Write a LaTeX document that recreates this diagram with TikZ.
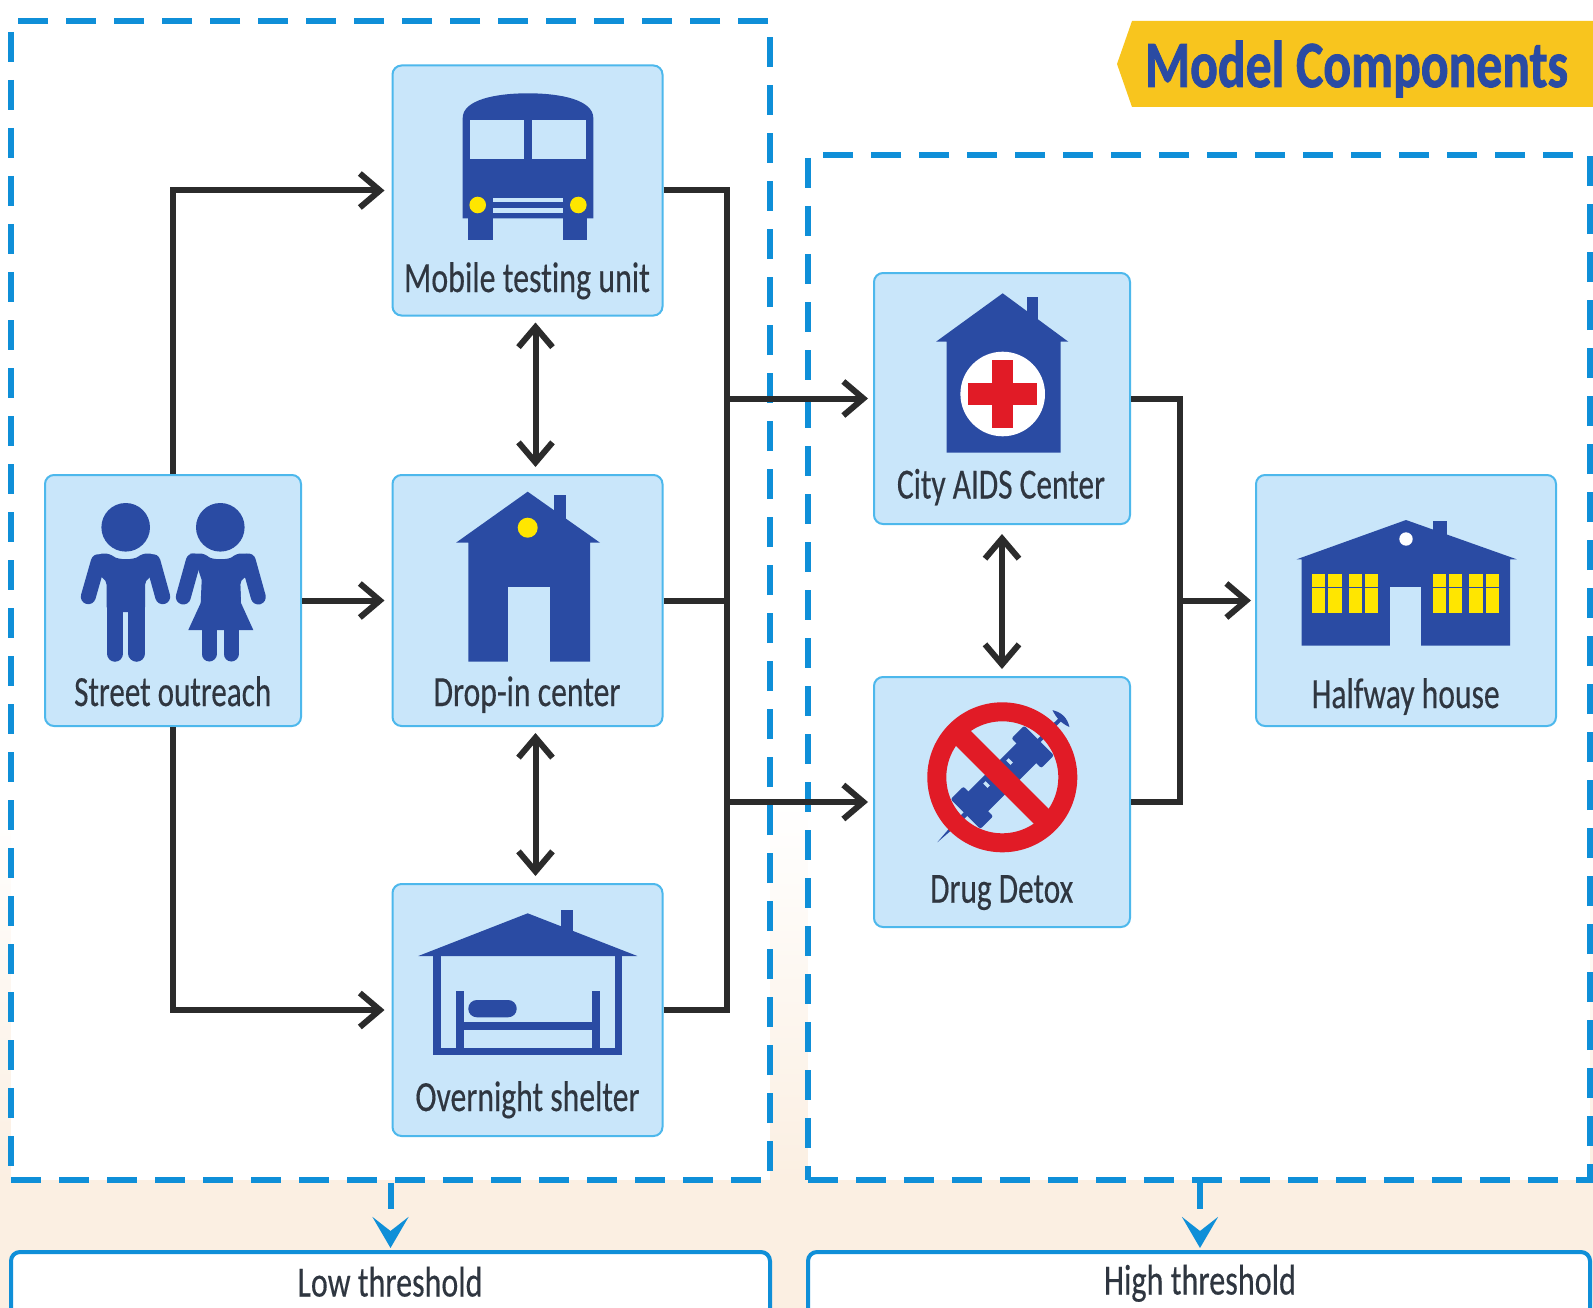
\documentclass[tikz,border=0pt]{standalone}
\usepackage{graphicx}
\usepackage{fontspec}
\setmainfont[Ligatures=NoCommon]{Carlito}
\usetikzlibrary{arrows.meta}
\definecolor{boxfill}{HTML}{C9E6FA}
\definecolor{boxline}{HTML}{4DB8EC}
\definecolor{iconblue}{HTML}{2A4BA3}
\definecolor{dashblue}{HTML}{0F8FD8}
\definecolor{cream}{HTML}{FBEFE2}
\definecolor{banner}{HTML}{F8C51E}
\definecolor{inkdark}{HTML}{2B2B2B}
\definecolor{labelink}{HTML}{2F3640}
\definecolor{lampyellow}{HTML}{FFE600}
\definecolor{crossred}{HTML}{E11B26}
\newcommand{\lbltext}[2]{\resizebox{#1pt}{\height}{\fontsize{43}{43}\selectfont\addfontfeature{FakeBold=0.4}#2}}
\tikzset{
  card/.style={draw=boxline,fill=boxfill,line width=2pt,rounded corners=9pt,inner sep=0pt,minimum height=251pt,minimum width=256pt},
  zone/.style={draw=dashblue,fill=white,line width=6pt,dash pattern=on 30pt off 18pt,inner sep=0pt},
  result/.style={draw=dashblue,fill=white,line width=4pt,rounded corners=9pt,inner sep=0pt},
  txt/.style={anchor=base,inner sep=0pt,text=labelink},
  conn/.style={draw=inkdark,line width=6pt},
  arr/.style={conn,-{Straight Barb[length=20pt,width=34pt]}},
  dbl/.style={conn,{Straight Barb[length=20pt,width=34pt]}-{Straight Barb[length=20pt,width=34pt]}},
  downarr/.style={draw=dashblue,line width=6pt,dash pattern=on 26pt off 200pt,-{Stealth[length=31pt,width=36pt,inset=14pt]}},
  icon/.style={fill=iconblue},
  limb/.style={draw=iconblue,line cap=round},
}
\begin{document}
\begin{tikzpicture}[x=1pt,y=-1pt]
\useasboundingbox (0,0) rectangle (1593,1308);
\clip (0,0) rectangle (1593,1308);
\fill[white] (0,0) rectangle (1593,1308);
\shade[top color=white,bottom color=cream] (0,800) rectangle (1593,1180);
\fill[cream] (0,1180) rectangle (1593,1308);

% banner
\fill[banner] (1132,21) -- (1593,21) -- (1593,107) -- (1132,107) -- (1117,64) -- cycle;
\node[anchor=base,inner sep=0pt,text=iconblue] (title) at (1356.5,87) {\resizebox{423pt}{\height}{\fontsize{66}{66}\selectfont\bfseries\addfontfeature{FakeBold=1.5}Model Components}};

% zones
\node[zone,minimum width=759pt,minimum height=1159pt] (lowzone) at (390.5,600.5) {};
\node[zone,minimum width=782pt,minimum height=1025pt] (highzone) at (1199,667.5) {};
\node[result,minimum width=759pt,minimum height=100pt] (lowres) at (390.5,1302) {};
\node[result,minimum width=782pt,minimum height=100pt] (highres) at (1199,1302) {};
\node[txt] (lowtxt) at (390,1296.5) {\lbltext{185}{Low threshold}};
\node[txt] (hightxt) at (1200,1294.5) {\lbltext{192}{High threshold}};
\draw[downarr] (lowzone.south) -- ([yshift=2pt]lowres.north);
\draw[downarr] ([xshift=1pt]highzone.south) -- ([xshift=1pt,yshift=2pt]highres.north);

% cards
\node[card,minimum width=270pt,minimum height=250pt] (mobile) at (527.5,190.5) {};
\node[card,minimum width=270pt] (drop) at (527.5,600.5) {};
\node[card,minimum width=270pt,minimum height=252pt] (shelter) at (527.5,1010) {};
\node[card] (street) at (173,600.5) {};
\node[card] (city) at (1002,398.5) {};
\node[card,minimum height=250pt] (detox) at (1002,802) {};
\node[card,minimum width=300pt] (halfway) at (1406,600.5) {};

% labels
\node[txt] (mobiletxt) at (527,292) {\lbltext{246}{Mobile testing unit}};
\node[txt] (droptxt) at (527,706) {\lbltext{187}{Drop-in center}};
\node[txt] (sheltertxt) at (527.5,1111) {\lbltext{224}{Overnight shelter}};
\node[txt] (streettxt) at (172.7,706) {\lbltext{197}{Street outreach}};
\node[txt] (citytxt) at (1001,498.5) {\lbltext{208}{City AIDS Center}};
\node[txt] (detoxtxt) at (1001.7,902.7) {\lbltext{143}{Drug Detox}};
\node[txt] (halfwaytxt) at (1405.7,708) {\lbltext{188}{Halfway house}};

% connectors
\coordinate (trunk) at (727,600.5);
\coordinate (merge) at (1180,600.5);
\draw[arr] (street.north) |- ([xshift=-7pt]mobile.west);
\draw[arr] (street.east) -- ([xshift=-7pt]drop.west);
\draw[arr] (street.south) |- ([xshift=-7pt]shelter.west);
\draw[conn] (mobile.east) -| (trunk);
\draw[conn] (shelter.east) -| (trunk);
\draw[conn] (drop.east) -- (trunk);
\draw[arr] (trunk |- city.west) -- ([xshift=-5pt]city.west);
\draw[arr] (trunk |- detox.west) -- ([xshift=-5pt]detox.west);
\draw[dbl] ([xshift=8pt,yshift=-6pt]mobile.south) -- ([xshift=8pt,yshift=7pt]drop.north);
\draw[dbl] ([xshift=8pt,yshift=-6pt]drop.south) -- ([xshift=8pt,yshift=7pt]shelter.north);
\draw[dbl] ([yshift=-9pt]city.south) -- ([yshift=7pt]detox.north);
\draw[conn] (city.east) -| (merge);
\draw[conn] (detox.east) -| (merge);
\draw[arr] (merge) -- ([xshift=-4pt]halfway.west);

% bus
\fill[icon] (462.7,218.3) -- (462.7,118) .. controls (462.7,100) and (495,93.3) .. (528,93.3) .. controls (561,93.3) and (593.3,100) .. (593.3,118) -- (593.3,218.3) -- cycle;
\fill[icon] (468.3,215) rectangle (492.7,240);
\fill[icon] (562.7,215) rectangle (587.3,240);
\fill[boxfill] (470,120) rectangle (524,159.3);
\fill[boxfill] (531.7,120) rectangle (586,159.3);
\fill[boxfill] (493.3,197.7) rectangle (562.7,202.3);
\fill[boxfill] (493.3,207.7) rectangle (562.7,212.7);
\fill[lampyellow] (477.7,205) circle (8.3);
\fill[lampyellow] (578.3,205) circle (8.3);

% drop-in house
\fill[icon] (554.3,525) rectangle (566,495);
\fill[icon] (527.7,491.7) -- (600,542.7) -- (590,542.7) -- (590,661.7) -- (468.3,661.7) -- (468.3,542.7) -- (456,542.7) -- cycle;
\fill[boxfill] (508.3,587.3) rectangle (550,661.7);
\fill[lampyellow] (527.7,527.7) circle (10);

% overnight shelter
\fill[icon] (560.7,935) rectangle (573.3,910);
\fill[icon] (527.7,913.3) -- (637.3,956) -- (418.3,956) -- cycle;
\fill[icon] (433.3,950) rectangle (441,1055);
\fill[icon] (615,950) rectangle (621.7,1055);
\fill[icon] (433.3,1047.7) rectangle (621.7,1055);
\fill[icon] (456,990.7) rectangle (464.3,1055);
\fill[icon] (591.7,990.7) rectangle (600,1055);
\fill[icon] (460,1022.3) rectangle (596,1030);
\fill[icon,rounded corners=8.5pt] (468.3,1000) rectangle (516.7,1017.3);

% city house
\fill[icon] (1026.7,325) rectangle (1038.3,297.3);
\fill[icon] (1002.7,293.3) -- (1068.3,341.7) -- (1060.7,341.7) -- (1060.7,452.7) -- (946.7,452.7) -- (946.7,341.7) -- (936,341.7) -- cycle;
\fill[white] (1002.7,394) circle (42.3);
\fill[crossred] (967.7,383.3) rectangle (1036.7,405);
\fill[crossred] (991.7,360) rectangle (1013.3,428.3);

% no-drugs sign
\begin{scope}[shift={(1002.3,777.3)},rotate=45]
  \fill[icon] (-92,0) -- (-60,-2.5) -- (84,-2) -- (84,2) -- (-60,2.5) -- cycle;
  \fill[icon] (83,-12) .. controls (88,-4) and (88,4) .. (83,12) .. controls (80,4) and (80,-4) .. (83,-12) -- cycle;
  \fill[icon,rounded corners=2pt] (-50,-14) rectangle (50,14);
  \fill[icon,rounded corners=2pt] (-52,-21) rectangle (-34,21);
  \fill[icon,rounded corners=2pt] (34,-21) rectangle (52,21);
  \fill[boxfill] (-18,-9) rectangle (-14.5,-3);
  \fill[boxfill] (14.5,-9) rectangle (18,-3);
  \draw[crossred,line width=21pt] (0,-62) -- (0,62);
\end{scope}
\draw[crossred,line width=19pt] (1002.3,777.3) circle (65.5);

% halfway house
\fill[icon] (1433.3,540) rectangle (1446.7,520.7);
\fill[icon] (1406,520) -- (1516.7,559.3) -- (1510,559.3) -- (1510,645.7) -- (1301.7,645.7) -- (1301.7,559.3) -- (1296.7,559.3) -- cycle;
\fill[boxfill] (1390,587.3) rectangle (1421,645.7);
\fill[white] (1406,539) circle (6.7);
\foreach \xa/\xb in {1311.7/1341.7,1349.3/1378.3,1432.7/1462.3,1469.3/1499.3}{
  \fill[lampyellow] (\xa,574.3) rectangle (\xb,612.7);
  \fill[icon] ({(\xa+\xb)/2-1.5},574.3) rectangle ({(\xa+\xb)/2+1.5},612.7);
  \fill[icon] (\xa,586.5) rectangle (\xb,588);
}

% people
\fill[icon] (125.7,527.3) circle (24.3);
\fill[icon] (220.3,527.3) circle (24.3);
\fill[icon,rounded corners=5pt] (97,553.5) -- (110,553.5) .. controls (118,560) and (134,560) .. (142,553.5) -- (155,553.5) -- (160,572) -- (145,580) -- (145,612) -- (106.7,612) -- (106.7,580) -- (92,572) -- cycle;
\draw[limb,line width=15pt] (98.3,561.7) -- (88.3,596.7);
\draw[limb,line width=15pt] (153,561.7) -- (162.7,596.7);
\draw[limb,line width=16.5pt] (115,605) -- (115,653.5);
\draw[limb,line width=16.5pt] (136.7,605) -- (136.7,653.5);
\fill[icon,rounded corners=5pt] (190,553.5) -- (205,553.5) .. controls (212,560) and (229,560) .. (236,553.5) -- (251,553.5) -- (256,572) -- (240,580) -- (241,603);
\fill[icon] (195,560) -- (246,560) -- (240,580) -- (241,603) -- (253.3,630) -- (188.3,630) -- (200.7,603) -- (201.7,580) -- cycle;
\draw[limb,line width=15pt] (193.3,561) -- (183.3,597);
\draw[limb,line width=15pt] (248.3,561) -- (258.3,597);
\draw[limb,line width=15pt] (209,625) -- (209,654);
\draw[limb,line width=15pt] (231,625) -- (231,654);
\end{tikzpicture}
\end{document}
